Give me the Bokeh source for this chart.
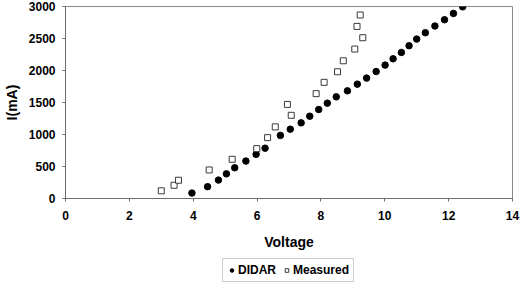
from bokeh.plotting import figure
from bokeh.layouts import column
from bokeh.models import FixedTicker, Legend, LegendItem
from bokeh.embed import file_html
from bokeh.resources import INLINE

# Current vs. voltage: DIDAR model against measured values
didar_v = [3.96, 4.45, 4.79, 5.04, 5.30, 5.65, 5.97, 6.25, 6.73, 7.04, 7.38, 7.65,
           7.93, 8.20, 8.48, 8.83, 9.14, 9.43, 9.73, 10.01, 10.26, 10.52, 10.76,
           11.00, 11.27, 11.57, 11.87, 12.15, 12.44]
didar_i = [85, 185, 288, 385, 480, 585, 690, 786, 986, 1083, 1182, 1286,
           1390, 1490, 1588, 1682, 1787, 1881, 1984, 2084, 2183, 2282, 2387,
           2491, 2590, 2695, 2793, 2892, 2995]

measured_v = [3.0, 3.4, 3.54, 4.5, 5.22, 5.99, 6.33, 6.57, 6.95, 7.07, 7.85, 8.10,
              8.52, 8.70, 9.06, 9.31, 9.13, 9.23]
measured_i = [120, 207, 285, 446, 613, 779, 951, 1119, 1470, 1300, 1638, 1815,
              1980, 2152, 2335, 2512, 2689, 2867]

x_ticks = [0, 2, 4, 6, 8, 10, 12, 14]
y_ticks = [0, 500, 1000, 1500, 2000, 2500, 3000]

FONT = "Liberation Sans"
AXIS_GREY = "#6e6e6e"

DIDAR_STYLE = dict(marker="circle", fill_color="black", line_color="black")
MEAS_STYLE = dict(marker="square", fill_color="white", line_color="#3a3a3a",
                  line_width=1)

p = figure(width=528, height=258, x_range=(0, 14), y_range=(0, 3000),
           output_backend="svg", toolbar_location=None,
           min_border_left=63, min_border_right=16, min_border_top=6,
           min_border_bottom=60)
p.background_fill_color = "white"
p.border_fill_color = "white"
p.outline_line_color = "#8a8a8a"
p.outline_line_width = 1
p.grid.visible = False

p.xaxis.ticker = FixedTicker(ticks=x_ticks)
p.yaxis.ticker = FixedTicker(ticks=y_ticks)

for ax in (p.xaxis, p.yaxis):
    ax.axis_line_color = AXIS_GREY
    ax.major_tick_line_color = AXIS_GREY
    ax.minor_tick_line_color = None
    ax.major_tick_in = 0
    ax.major_tick_out = 3
    ax.major_label_text_font = FONT
    ax.major_label_text_font_style = "bold"
    ax.major_label_text_font_size = "12px"
    ax.major_label_text_color = "black"
    ax.axis_label_text_font = FONT
    ax.axis_label_text_font_style = "bold"
    ax.axis_label_text_font_size = "14px"
    ax.axis_label_text_color = "black"

p.xaxis.axis_label = "Voltage"
p.yaxis.axis_label = "I(mA)"
p.xaxis.major_label_standoff = 9
p.xaxis.axis_label_standoff = 11
p.yaxis.major_label_standoff = 7
p.yaxis.axis_label_standoff = 6

p.scatter(didar_v, didar_i, size=6.5, **DIDAR_STYLE)
p.scatter(measured_v, measured_i, size=6, **MEAS_STYLE)

# strip underneath holding the legend box (keys drawn from off-range points);
# the column lines its frame up with the chart frame above
leg_fig = figure(width=528, height=25, x_range=(0, 1), y_range=(0, 1),
                 output_backend="svg", toolbar_location=None,
                 x_axis_location=None, y_axis_location=None,
                 min_border=0, min_border_left=0, min_border_right=0,
                 min_border_top=0, min_border_bottom=0)
leg_fig.grid.visible = False
leg_fig.outline_line_color = None
leg_fig.background_fill_color = "white"
leg_fig.border_fill_color = "white"
k_didar = leg_fig.scatter(x=[-5], y=[-5], size=5, **DIDAR_STYLE)
k_meas = leg_fig.scatter(x=[-5], y=[-5], size=5, **MEAS_STYLE)

legend = Legend(items=[LegendItem(label="DIDAR", renderers=[k_didar]),
                       LegendItem(label="Measured", renderers=[k_meas])],
                orientation="horizontal", location=(157, 1))
legend.label_text_font = FONT
legend.label_text_font_style = "bold"
legend.label_text_font_size = "12px"
legend.label_text_color = "black"
legend.glyph_width = 9
legend.glyph_height = 12
legend.label_height = 12
legend.label_standoff = 2
legend.spacing = 6
legend.padding = 4
legend.margin = 0
legend.border_line_color = "#9a9a9a"
legend.border_line_width = 1
legend.background_fill_color = "white"
leg_fig.add_layout(legend, "center")

page = column(p, leg_fig, spacing=0)
open("out.html", "w").write(file_html(page, INLINE))
